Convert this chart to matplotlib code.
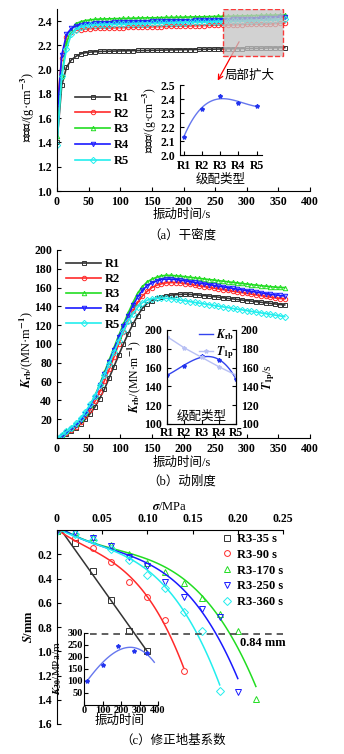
import numpy as np
import matplotlib
matplotlib.use('Agg')
import matplotlib.pyplot as plt
from matplotlib.patches import Rectangle

plt.rcParams['font.family'] = ['Liberation Serif', 'Noto Sans CJK SC', 'DejaVu Sans']
plt.rcParams['mathtext.fontset'] = 'stix'
plt.rcParams['font.size'] = 8.5
plt.rcParams['font.weight'] = 'bold'
plt.rcParams['axes.linewidth'] = 0.8
plt.rcParams['xtick.direction'] = 'in'
plt.rcParams['ytick.direction'] = 'in'
plt.rcParams['xtick.major.size'] = 3
plt.rcParams['ytick.major.size'] = 3

# ---- data ----
names = ['R1', 'R2', 'R3', 'R4', 'R5']
t = np.arange(0, 361, 7.5)

dens_r1 = [1.40, 1.87, 2.02, 2.08, 2.11, 2.13, 2.14, 2.145, 2.148,
           2.150, 2.151, 2.152, 2.153, 2.154, 2.155, 2.156, 2.157, 2.158, 2.158,
           2.159, 2.160, 2.160, 2.161, 2.162, 2.163, 2.163, 2.164, 2.165, 2.166,
           2.166, 2.167, 2.168, 2.169, 2.169, 2.170, 2.171, 2.172, 2.172, 2.173,
           2.174, 2.175, 2.175, 2.176, 2.177, 2.178, 2.179, 2.180, 2.181, 2.182]
dens_r2 = [1.68, 2.10, 2.27, 2.31, 2.325, 2.33, 2.335, 2.338, 2.34,
           2.342, 2.343, 2.344, 2.345, 2.346, 2.347, 2.348, 2.349, 2.350, 2.351,
           2.352, 2.353, 2.354, 2.355, 2.356, 2.357, 2.358, 2.359, 2.360, 2.361,
           2.362, 2.363, 2.364, 2.365, 2.366, 2.367, 2.368, 2.369, 2.370, 2.371,
           2.372, 2.373, 2.374, 2.375, 2.376, 2.377, 2.378, 2.380, 2.382, 2.385]
dens_r3 = [1.45, 1.95, 2.22, 2.33, 2.38, 2.395, 2.405, 2.41, 2.415,
           2.417, 2.418, 2.419, 2.420, 2.421, 2.422, 2.423, 2.424, 2.425, 2.426,
           2.427, 2.427, 2.428, 2.429, 2.430, 2.431, 2.431, 2.432, 2.433, 2.434,
           2.435, 2.435, 2.436, 2.437, 2.438, 2.439, 2.440, 2.440, 2.441, 2.442,
           2.443, 2.444, 2.445, 2.446, 2.447, 2.448, 2.449, 2.450, 2.451, 2.452]
dens_r4 = [1.60, 2.12, 2.29, 2.34, 2.36, 2.37, 2.375, 2.38, 2.383,
           2.385, 2.386, 2.388, 2.389, 2.390, 2.391, 2.392, 2.393, 2.394, 2.395,
           2.396, 2.397, 2.398, 2.399, 2.400, 2.401, 2.402, 2.403, 2.404, 2.405,
           2.406, 2.407, 2.408, 2.409, 2.410, 2.411, 2.412, 2.413, 2.414, 2.415,
           2.417, 2.418, 2.420, 2.421, 2.423, 2.425, 2.427, 2.429, 2.432, 2.435]
dens_r5 = [1.38, 1.95, 2.17, 2.29, 2.33, 2.35, 2.36, 2.365, 2.368,
           2.370, 2.371, 2.372, 2.373, 2.374, 2.375, 2.376, 2.377, 2.378, 2.379,
           2.380, 2.381, 2.382, 2.383, 2.384, 2.385, 2.386, 2.387, 2.388, 2.389,
           2.390, 2.391, 2.392, 2.393, 2.394, 2.395, 2.396, 2.397, 2.398, 2.399,
           2.400, 2.401, 2.402, 2.403, 2.405, 2.406, 2.408, 2.410, 2.412, 2.415]

krb_r1 = [0, 2, 4, 7, 11, 15, 20, 26, 33, 42, 52, 64, 76, 88, 100, 111, 121, 130, 138,
          143, 146, 148.5, 150, 151, 152, 152.5, 152.8, 153, 152.8,
          152.4, 152, 151.5, 151, 150.4, 149.8, 149.2, 148.6, 148, 147.4,
          146.8, 146.2, 145.6, 145, 144.4, 143.8, 143.2, 142.6, 142, 141.5]
krb_r2 = [0, 2, 5, 8, 12, 17, 23, 30, 39, 49, 61, 73, 86, 100, 113, 125, 135, 144, 151,
          156, 160, 162.5, 164, 165, 165.3, 165.3, 165,
          164.2, 163.4, 162.6, 161.8, 161.0, 160.2, 159.4, 158.6, 157.8, 157.0, 156.2,
          155.4, 154.6, 153.8, 153.0, 152.2, 151.4, 150.6, 149.8, 149.0, 148.4, 148.0]
krb_r3 = [0, 3, 7, 11, 15, 20, 27, 35, 45, 57, 70, 83, 96, 109, 121, 133, 144, 154, 161,
          166, 169, 171, 172.5, 173, 173,
          172.6, 172.1, 171.6, 171.0, 170.4, 169.8, 169.2, 168.6, 168.0, 167.4, 166.8, 166.2,
          165.6, 165.0, 164.4, 163.8, 163.2, 162.6, 162.0, 161.5, 161.0, 160.5, 160.2, 160.0]
krb_r4 = [0, 2, 6, 10, 14, 19, 26, 34, 44, 56, 68, 81, 94, 107, 119, 130, 141, 150, 157,
          162, 165, 167, 168.5, 169, 169,
          168.5, 167.9, 167.2, 166.4, 165.6, 164.8, 164.0, 163.2, 162.4, 161.6, 160.8, 160.0,
          159.2, 158.4, 157.6, 156.8, 156.0, 155.2, 154.4, 153.6, 152.9, 152.2, 151.6, 151.0]
krb_r5 = [0, 3, 7, 11, 16, 21, 28, 36, 45, 56, 67, 79, 91, 103, 114, 124, 132, 139, 144,
          146.5, 148, 148.6, 148.8, 148.6, 148.2,
          147.5, 146.7, 145.9, 145.1, 144.3, 143.5, 142.7, 141.9, 141.1, 140.3, 139.5, 138.7,
          137.9, 137.1, 136.3, 135.5, 134.7, 133.9, 133.1, 132.3, 131.5, 130.7, 129.9, 129.2]

dens_grade = [2.13, 2.326, 2.42, 2.37, 2.35]
krb_grade = [152, 162, 172, 168, 148]
t1p_grade = [193, 181, 171, 161, 152]

sig_35 = [0, 0.02, 0.04, 0.06, 0.08, 0.10]
s_35 = [0.01, 0.11, 0.34, 0.58, 0.83, 1.00]
sig_90 = [0, 0.02, 0.04, 0.06, 0.08, 0.10, 0.12, 0.14]
s_90 = [0.01, 0.07, 0.15, 0.26, 0.43, 0.55, 0.74, 1.16]
sig_170 = [0, 0.02, 0.04, 0.06, 0.08, 0.10, 0.12, 0.14, 0.16, 0.18, 0.20, 0.22]
s_170 = [0.01, 0.02, 0.06, 0.12, 0.20, 0.27, 0.35, 0.44, 0.56, 0.69, 0.83, 1.39]
sig_250 = [0, 0.02, 0.04, 0.06, 0.08, 0.10, 0.12, 0.14, 0.16, 0.18, 0.20]
s_250 = [0.01, 0.02, 0.07, 0.13, 0.22, 0.30, 0.43, 0.55, 0.65, 0.72, 1.34]
sig_360 = [0, 0.02, 0.04, 0.06, 0.08, 0.10, 0.12, 0.14, 0.16, 0.18]
s_360 = [0.01, 0.03, 0.08, 0.16, 0.25, 0.37, 0.48, 0.68, 0.83, 1.33]
c_labels = ['R3-35 s', 'R3-90 s', 'R3-170 s', 'R3-250 s', 'R3-360 s']
s_ref = 0.86

t_k30 = [15, 100, 185, 268, 340]
k30 = [101, 166, 244, 227, 215]

cols = ['#333333', '#ff2a2a', '#22dd22', '#1a1aff', '#22eeee']
marks = ['s', 'o', '^', 'v', 'D']

W, H = 344.0, 754.0
def box(l, tp, r, b):
    return [l / W, 1 - b / H, (r - l) / W, (b - tp) / H]
def fx(x):
    return x / W
def fy(y):
    return 1 - y / H

cjk = dict(fontweight='normal', fontsize=9)

fig = plt.figure(figsize=(3.44, 7.54), dpi=100)

# ---- (a) ----
ax1 = fig.add_axes(box(57, 9, 310, 191))
for i, d in enumerate([dens_r1, dens_r2, dens_r3, dens_r4, dens_r5]):
    ax1.plot(t, d, color=cols[i], marker=marks[i], ms=3.2, mfc='none', mew=0.7,
             lw=1.2, label=names[i])
ax1.set_xlim(0, 400)
ax1.set_ylim(1.0, 2.5)
ax1.set_xticks(range(0, 401, 50))
ax1.set_yticks([1.0, 1.2, 1.4, 1.6, 1.8, 2.0, 2.2, 2.4])
ax1.set_yticklabels(['%.1f' % v for v in [1.0, 1.2, 1.4, 1.6, 1.8, 2.0, 2.2, 2.4]])
ax1.spines['top'].set_visible(False)
ax1.spines['right'].set_visible(False)
ax1.add_patch(Rectangle((262, 2.11), 96, 0.39, fc='#c4c4c4', alpha=0.75, ec='red',
                        ls='--', lw=1, zorder=5))
ax1.annotate('', xy=(252, 1.89), xytext=(290, 2.25),
             arrowprops=dict(arrowstyle='->', color='red', lw=0.9), annotation_clip=False)
ax1.text(305, 1.95, '局部扩大', ha='center', va='center', **cjk)
ax1.legend(loc='upper left', bbox_to_anchor=(fx(75), fy(92)), bbox_transform=fig.transFigure,
           frameon=False, handlelength=2.8, handletextpad=0.3, labelspacing=0.3,
           borderpad=0, borderaxespad=0, fontsize=9)
fig.text(fx(28), fy(107), '干密度/(g·cm$^{-3}$)', rotation=90, ha='center', va='center', **cjk)
fig.text(fx(182), fy(215), '振动时间/s', ha='center', va='center', **cjk)
fig.text(fx(182), fy(235), '（a）干密度', ha='center', va='center', **cjk)

axi1 = fig.add_axes(box(180, 85, 262, 155))
pos = [1, 2, 3, 4, 5]
xx = np.linspace(1, 5, 100)
axi1.plot(xx, np.polyval(np.polyfit(pos, dens_grade, 3), xx), color='#6677ee', lw=1)
axi1.plot(pos, dens_grade, ls='none', marker='*', ms=3, color='#2233ee')
axi1.set_xlim(0.8, 5.3)
axi1.set_ylim(2.0, 2.5)
axi1.set_yticks([2.0, 2.1, 2.2, 2.3, 2.4, 2.5])
axi1.set_yticklabels(['%.1f' % v for v in [2.0, 2.1, 2.2, 2.3, 2.4, 2.5]])
axi1.set_xticks(pos)
axi1.set_xticklabels(names)
axi1.spines['top'].set_visible(False)
axi1.spines['right'].set_visible(False)
axi1.patch.set_alpha(0)
axi1.set_xlabel('级配类型', labelpad=1, **cjk)
axi1.set_ylabel('干密度/(g·cm$^{-3}$)', labelpad=1, fontweight='normal', fontsize=8.5)

# ---- (b) ----
ax2 = fig.add_axes(box(57, 250, 310, 438))
for i, d in enumerate([krb_r1, krb_r2, krb_r3, krb_r4, krb_r5]):
    ax2.plot(t, d, color=cols[i], marker=marks[i], ms=3.2, mfc='none', mew=0.7,
             lw=1.2, label=names[i])
ax2.set_xlim(0, 400)
ax2.set_ylim(0, 200)
ax2.set_xticks(range(0, 401, 50))
ax2.set_yticks(range(20, 201, 20))
ax2.spines['top'].set_visible(False)
ax2.spines['right'].set_visible(False)
ax2.legend(loc='upper left', bbox_to_anchor=(fx(66), fy(258)), bbox_transform=fig.transFigure,
           frameon=False, handlelength=2.8, handletextpad=0.3, labelspacing=0.25,
           borderpad=0, borderaxespad=0, fontsize=9)
fig.text(fx(26), fy(350), r'$K_{\rm rb}$/(MN·m$^{-1}$)', rotation=90, ha='center', va='center', **cjk)
fig.text(fx(182), fy(463), '振动时间/s', ha='center', va='center', **cjk)
fig.text(fx(182), fy(481), '（b）动刚度', ha='center', va='center', **cjk)

axi2 = fig.add_axes(box(167, 330, 236, 424))
axi2.patch.set_alpha(0)
h1, = axi2.plot(xx, np.polyval(np.polyfit(pos, krb_grade, 3), xx), color='#3344ee', lw=1)
axi2.plot(pos, krb_grade, ls='none', marker='*', ms=3, color='#2233ee')
axt = axi2.twinx()
h2, = axt.plot(pos, t1p_grade, color='#b8c0f4', marker='*', ms=3, lw=1)
for a in (axi2, axt):
    a.set_ylim(100, 200)
    a.set_yticks(range(100, 201, 20))
    a.spines['top'].set_visible(False)
axi2.set_xlim(1, 5)
axi2.set_xticks(pos)
axi2.set_xticklabels(names)
axi2.tick_params(axis='x', pad=2)
axi2.text(3, 108, '级配类型', ha='center', va='center', **cjk)
axi2.set_ylabel(r'$K_{\rm rb}$/(MN·m$^{-1}$)', labelpad=1, fontweight='normal', fontsize=8.5)
axt.set_ylabel(r'$T_{\rm 1p}$/s', labelpad=1, fontweight='normal', fontsize=8.5)
leg = axt.legend([h1, h2], [r'$K_{\rm rb}$', r'$T_{\rm 1p}$'], loc='upper left',
                 bbox_to_anchor=(fx(199), fy(327)), bbox_transform=fig.transFigure,
                 frameon=False, handlelength=1.2, handletextpad=0.2, labelspacing=0.2,
                 borderpad=0, borderaxespad=0, fontsize=8.5)
leg.set_zorder(10)

# ---- (c) ----
ax3 = fig.add_axes(box(57, 530, 283, 724))
c_sig = [sig_35, sig_90, sig_170, sig_250, sig_360]
c_s = [s_35, s_90, s_170, s_250, s_360]
for i in range(5):
    sx = np.linspace(0, c_sig[i][-1], 100)
    deg = 1 if i == 0 else 3
    ax3.plot(sx, np.polyval(np.polyfit(c_sig[i], c_s[i], deg), sx), color=cols[i], lw=1.1)
    ax3.plot(c_sig[i], c_s[i], ls='none', marker=marks[i], ms=4.2, mfc='none', mew=0.7,
             color=cols[i], label=c_labels[i])
ax3.axhline(s_ref, xmin=0.146, xmax=1, color='#444444', ls='--', lw=1.2, dashes=(4, 3))
ax3.text(0.2025, 0.93, '0.84 mm', ha='left', va='center', fontsize=9)
ax3.set_xlim(0, 0.25)
ax3.set_ylim(1.6, 0)
ax3.xaxis.tick_top()
ax3.xaxis.set_label_position('top')
ax3.set_xticks([0, 0.05, 0.10, 0.15, 0.20, 0.25])
ax3.set_xticklabels(['0', '0.05', '0.10', '0.15', '0.20', '0.25'])
ax3.set_yticks([0.2, 0.4, 0.6, 0.8, 1.0, 1.2, 1.4, 1.6])
ax3.set_yticklabels(['%.1f' % v for v in [0.2, 0.4, 0.6, 0.8, 1.0, 1.2, 1.4, 1.6]])
ax3.set_xlabel(r'$\sigma$/MPa', fontsize=9, labelpad=2)
ax3.spines['bottom'].set_visible(False)
ax3.spines['right'].set_visible(False)
ax3.legend(loc='upper left', bbox_to_anchor=(fx(222), fy(533)), bbox_transform=fig.transFigure,
           frameon=False, handlelength=0.8, handletextpad=0.4, labelspacing=0.3,
           borderpad=0, borderaxespad=0, fontsize=9)
fig.text(fx(28), fy(627), '$S$/mm', rotation=90, ha='center', va='center', fontsize=9)
fig.text(fx(173), fy(741), '（c）修正地基系数', ha='center', va='center', **cjk)

axi3 = fig.add_axes(box(84, 633, 158, 705))
axi3.patch.set_alpha(0)
tx = np.linspace(15, 380, 100)
axi3.plot(tx, np.polyval(np.polyfit(t_k30, k30, 3), tx), color='#6677ee', lw=1)
axi3.plot(t_k30, k30, ls='none', marker='*', ms=3, color='#2233ee')
axi3.set_xlim(0, 400)
axi3.set_ylim(0, 300)
axi3.set_xticks(range(0, 401, 100))
axi3.set_yticks(range(50, 301, 50))
axi3.spines['top'].set_visible(False)
axi3.spines['right'].set_visible(False)
axi3.tick_params(labelsize=7.5, pad=1)
fig.text(fx(58), fy(668), r'$K_{30}$/MPa/m', rotation=90, ha='center', va='center',
         fontsize=8, fontweight='normal')
fig.text(fx(120), fy(721), '振动时间', ha='center', va='center', **cjk)

fig.savefig('out.png', dpi=100)
